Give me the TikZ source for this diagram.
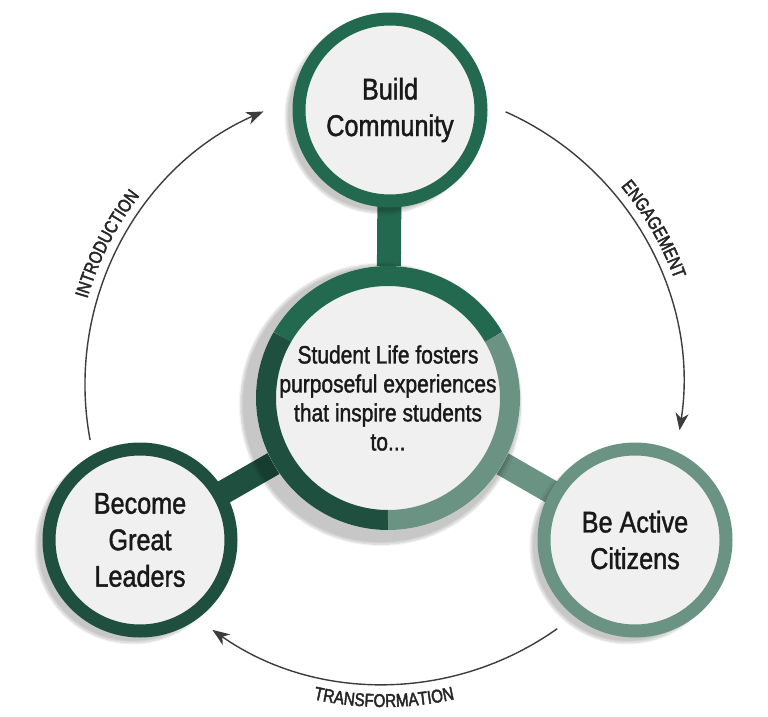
\documentclass[tikz,border=0pt]{standalone}
\usepackage{fontspec}
\setmainfont{Liberation Sans}[FakeStretch=0.84, FakeBold=1.4]
\newfontfamily\arcfamily{Liberation Sans}[FakeStretch=0.82, FakeBold=2.4]
\usetikzlibrary{arrows.meta}
\usetikzlibrary{backgrounds}
\usetikzlibrary{decorations.text}
\usetikzlibrary{shadows.blur}

\definecolor{topgreen}{HTML}{23694F}
\definecolor{leftgreen}{HTML}{1E4F3F}
\definecolor{rightgreen}{HTML}{6A9384}
\definecolor{discfill}{HTML}{F1F0F0}
\definecolor{inkgray}{HTML}{262626}

\newcommand{\arcfont}{\arcfamily\fontsize{18.5}{18.5}\selectfont}

\tikzset{
	softshadow/.style={blur shadow={shadow xshift=-7pt, shadow yshift=-6pt, shadow scale=1.06, shadow blur steps=12, shadow opacity=22}},
	goal/.style={circle, draw=#1, line width=13pt, fill=discfill, minimum size=182pt, inner sep=0pt, outer sep=0pt, align=center, text=black!90, font=\fontsize{30}{36.5}\selectfont, softshadow},
	hubdisc/.style={circle, fill=discfill, minimum size=264pt, inner sep=0pt, outer sep=0pt, align=center, text=black!90, font=\fontsize{25}{29}\selectfont, softshadow},
	stem/.style={line width=24pt, draw=#1},
	cyclearrow/.style={line width=1.4pt, draw=inkgray!90, -{Stealth[length=17pt, width=13pt, inset=5pt]}},
	arclabel/.style={decorate, decoration={text along path, text align=center, text color=inkgray, text={|\arcfont|#1}}}
}

\begin{document}
\begin{tikzpicture}[x=1pt, y=1pt]

	\useasboundingbox (0,0) rectangle (768,-717);

	% --- cycle ---
	\coordinate (cyc) at (384,-385);

	\draw[cyclearrow] ([shift={(190.6:299)}]cyc) arc[start angle=190.6, end angle=113.8, radius=299];
	\draw[cyclearrow] ([shift={(66:299)}]cyc) arc[start angle=66, end angle=-8.7, radius=299];
	\draw[cyclearrow] ([shift={(-54.6:299)}]cyc) arc[start angle=-54.6, end angle=-125, radius=299];

	\path[arclabel=INTRODUCTION] ([shift={(176:309)}]cyc) arc[start angle=176, end angle=130, radius=309];
	\path[arclabel=ENGAGEMENT] ([shift={(53:309)}]cyc) arc[start angle=53, end angle=7, radius=309];
	\path[arclabel=TRANSFORMATION] ([shift={(-118:322)}]cyc) arc[start angle=-118, end angle=-62, radius=322];

	% --- circles ---
	\node[hubdisc] (hub) at (388,-398) {Student Life fosters\\purposeful experiences\\that inspire students\\to...};
	\node[goal=topgreen] (build) at (390,-110) {Build\\Community};
	\node[goal=leftgreen] (lead) at (140,-540) {Become\\Great\\Leaders};
	\node[goal=rightgreen] (citizen) at (635,-540) {Be Active\\Citizens};

	% hub ring
	\foreach \c/\a in {topgreen/30, leftgreen/150, rightgreen/270}
		\draw[line width=20pt, \c] ([shift={(\a:122)}]hub.center) arc[start angle=\a, delta angle=120, radius=122];

	% stems
	\begin{scope}[on background layer]
		\draw[stem=topgreen] (hub) -- (build);
		\draw[stem=leftgreen] (hub) -- (lead);
		\draw[stem=rightgreen] (hub) -- (citizen);
	\end{scope}

\end{tikzpicture}
\end{document}
